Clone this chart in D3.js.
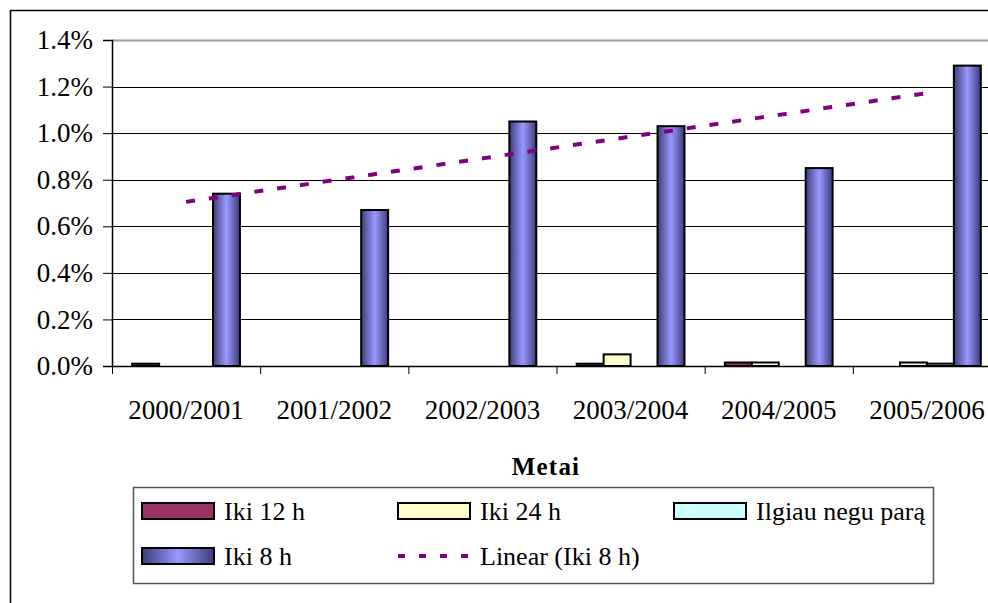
<!DOCTYPE html>
<html>
<head>
<meta charset="utf-8">
<script src="https://cdn.jsdelivr.net/npm/d3@7"></script>
<style>
  body { margin: 0; background: #fff; }
  text { font-family: 'Liberation Serif', 'DejaVu Serif', serif; }
  .lbl { font-size: 26px; fill: #000; }
  .axl { font-size: 27px; fill: #000; }
</style>
</head>
<body>
<svg width="988" height="603"></svg>
<script>
// chart data (values in %)
const years = ['2000/2001', '2001/2002', '2002/2003', '2003/2004', '2004/2005', '2005/2006'];
const seriesNames = ['Iki 12 h', 'Iki 24 h', 'Ilgiau negu parą', 'Iki 8 h'];
const iki12 = [0.01, 0, 0, 0.01, 0.015, 0];
const iki24 = [0, 0, 0, 0.05, 0.015, 0.015];
const ilgiau = [0, 0, 0, 0, 0, 0.01];
const iki8 = [0.74, 0.67, 1.05, 1.03, 0.85, 1.29];
const yTicks = [0, 0.2, 0.4, 0.6, 0.8, 1.0, 1.2, 1.4];
const trendName = 'Linear (Iki 8 h)';
const axisTitle = 'Metai';

const seriesValues = [iki12, iki24, ilgiau, iki8];
const fills = ['#993366', '#ffffcc', '#ccffff', 'url(#grad8)'];

const svg = d3.select('svg'),
    width = +svg.attr('width'),
    height = +svg.attr('height');

const plot = { left: 112, right: 1001, top: 40, bottom: 366 };

// horizontal gradient used by the Iki 8 h series
const defs = svg.append('defs');
const grad = defs.append('linearGradient')
    .attr('id', 'grad8')
    .attr('x1', '0%').attr('x2', '100%').attr('y1', '0%').attr('y2', '0%');
grad.append('stop').attr('offset', '0%').attr('stop-color', '#3c3c78');
grad.append('stop').attr('offset', '50%').attr('stop-color', '#9999ff');
grad.append('stop').attr('offset', '100%').attr('stop-color', '#3c3c78');

// outer chart border
svg.append('rect')
    .attr('x', 10.5).attr('y', 10.5)
    .attr('width', 1100).attr('height', 700)
    .attr('fill', 'none')
    .attr('stroke', '#000')
    .attr('stroke-width', 1.5);

const x = d3.scaleBand()
    .domain(years)
    .range([plot.left, plot.right])
    .paddingInner(0).paddingOuter(0);

const xInner = d3.scaleBand()
    .domain(seriesNames)
    .range([0, x.bandwidth()])
    .paddingInner(0).paddingOuter(0.75);

const y = d3.scaleLinear()
    .domain([0, 1.4])
    .range([plot.bottom, plot.top]);

// gridlines
svg.append('g')
  .selectAll('line')
    .data(yTicks.filter(d => d > 0))
    .enter().append('line')
      .attr('x1', plot.left).attr('x2', plot.right)
      .attr('y1', d => Math.round(y(d)) + 0.5)
      .attr('y2', d => Math.round(y(d)) + 0.5)
      .attr('stroke', d => d === 1.4 ? '#999' : '#000')
      .attr('stroke-width', d => d === 1.4 ? 2 : 1);

// y axis
const yAxis = svg.append('g')
    .attr('transform', `translate(${plot.left},0)`)
    .call(d3.axisLeft(y).tickValues(yTicks).tickSize(9).tickPadding(10)
      .tickFormat(d => d.toFixed(1) + '%'));
yAxis.attr('font-family', null).attr('font-size', null);
yAxis.select('.domain').attr('stroke', '#000').attr('stroke-width', 1.5);
yAxis.selectAll('.tick line').attr('stroke', '#000');
yAxis.selectAll('.tick text').attr('class', 'axl');

// bars
seriesNames.forEach((name, si) => {
  svg.append('g')
    .selectAll('rect')
      .data(seriesValues[si].map((v, i) => ({ year: years[i], value: v })).filter(d => d.value > 0))
      .enter().append('rect')
        .attr('x', d => x(d.year) + xInner(name))
        .attr('y', d => y(d.value))
        .attr('width', xInner.bandwidth())
        .attr('height', d => y(0) - y(d.value))
        .attr('fill', fills[si])
        .attr('stroke', '#000')
        .attr('stroke-width', 2);
});

// x axis
const xAxis = svg.append('g')
    .attr('transform', `translate(0,${plot.bottom})`)
    .call(d3.axisBottom(x).tickSize(0).tickPadding(0));
xAxis.select('.domain').attr('stroke', '#000').attr('stroke-width', 1.5);
xAxis.selectAll('.tick text').remove();
svg.append('g')
  .selectAll('line')
    .data(years.concat(['end']))
    .enter().append('line')
      .attr('x1', (d, i) => plot.left + i * x.step() + 0.5)
      .attr('x2', (d, i) => plot.left + i * x.step() + 0.5)
      .attr('y1', plot.bottom).attr('y2', plot.bottom + 8)
      .attr('stroke', '#000');
svg.append('g')
  .selectAll('text')
    .data(years)
    .enter().append('text')
      .attr('class', 'axl')
      .attr('x', d => x(d) + x.bandwidth() / 2)
      .attr('y', 419)
      .attr('text-anchor', 'middle')
      .text(d => d);

// linear trendline for Iki 8 h (least squares)
const mx = d3.mean(iki8, (d, i) => i), my = d3.mean(iki8);
const slope = d3.sum(iki8, (d, i) => (i - mx) * (d - my)) / d3.sum(iki8, (d, i) => (i - mx) * (i - mx));
const intercept = my - slope * mx;
const trend = d3.line()
    .x((d, i) => x(years[i]) + x.bandwidth() / 2)
    .y((d, i) => y(intercept + slope * i));
svg.append('path')
    .datum(iki8)
    .attr('d', trend)
    .attr('fill', 'none')
    .attr('stroke', '#800080')
    .attr('stroke-width', 4)
    .attr('stroke-dasharray', '9,14');

// axis title
svg.append('text')
    .attr('x', 546).attr('y', 475)
    .attr('text-anchor', 'middle')
    .attr('font-size', 25)
    .attr('font-weight', 'bold')
    .attr('letter-spacing', 1.2)
    .text(axisTitle);

// legend
const legend = svg.append('g');
legend.append('rect')
    .attr('x', 133.5).attr('y', 487.5)
    .attr('width', 800).attr('height', 96)
    .attr('fill', '#fff')
    .attr('stroke', '#555')
    .attr('stroke-width', 1.5);

const legendItems = seriesNames.map((s, i) => ({ name: s, fill: fills[i] }))
    .concat([{ name: trendName, trend: true }]);
const colX = [142, 398, 674];
const rowY = [511, 556];

const li = legend.selectAll('g.item')
    .data(legendItems)
    .enter().append('g')
      .attr('class', 'item')
      .attr('transform', (d, i) => `translate(${colX[i % 3]},${rowY[Math.floor(i / 3)]})`);

li.filter(d => !d.trend).append('rect')
    .attr('x', 0).attr('y', -8)
    .attr('width', 72).attr('height', 16)
    .attr('fill', d => d.fill)
    .attr('stroke', '#000')
    .attr('stroke-width', 2);
li.filter(d => d.trend).append('line')
    .attr('x1', 0).attr('x2', 72)
    .attr('y1', 0).attr('y2', 0)
    .attr('stroke', '#800080')
    .attr('stroke-width', 4)
    .attr('stroke-dasharray', '7,14');
li.append('text')
    .attr('class', 'lbl')
    .attr('x', 82).attr('y', 9)
    .text(d => d.name);
</script>
</body>
</html>
